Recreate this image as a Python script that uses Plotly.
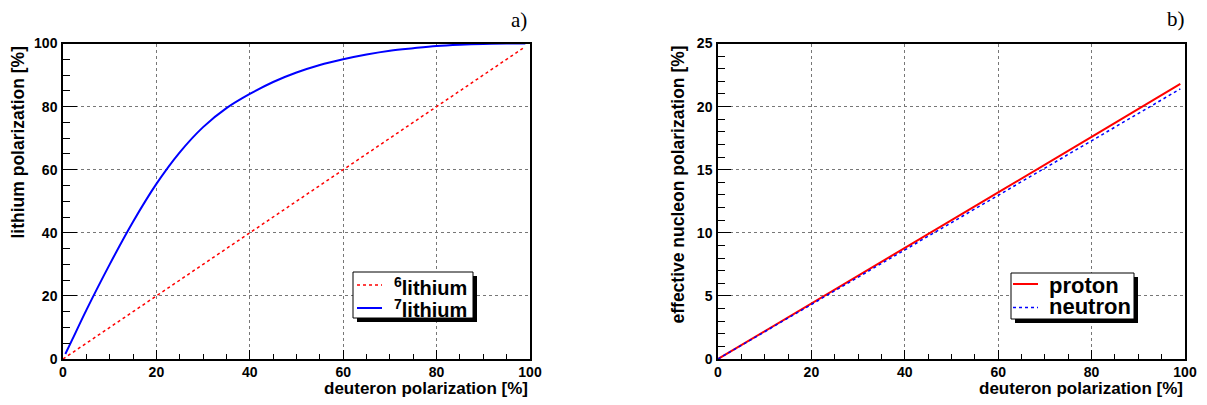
import plotly.graph_objects as go

# ---------------- data ----------------
deuteron_li = [0.5, 2, 5, 10, 15, 20, 25, 30, 35, 40, 45, 50, 55, 60, 65, 70, 75, 80, 85, 90, 95, 99]
li7 = [1.6, 6.2, 15.5, 30, 43.5, 55.5, 65.5, 73.5, 79.5, 84, 87.8, 90.8, 93.2, 95.0, 96.5, 97.7, 98.5, 99.2, 99.6, 99.85, 99.97, 100]
li6_x = [0, 99]
li6 = [0, 99]

deuteron_n = [0, 20, 40, 60, 80, 99]
proton = [0, 4.42, 8.82, 13.2, 17.6, 21.8]
neutron = [0, 4.32, 8.65, 12.97, 17.3, 21.4]

x_ticks = [0, 20, 40, 60, 80, 100]
y_ticks_a = [0, 20, 40, 60, 80, 100]
y_ticks_b = [0, 5, 10, 15, 20, 25]

W, H = 1207, 405
FONT = "Liberation Sans"
RED, BLUE = "#ff0000", "#0000ff"


def px(x):
    return x / W


def py(y):
    return 1 - y / H


fig = go.Figure()
fig.add_trace(go.Scatter(x=li6_x, y=li6, mode="lines", name="6lithium",
                         line=dict(color=RED, width=1.5, dash="dot"), xaxis="x", yaxis="y"))
fig.add_trace(go.Scatter(x=deuteron_li, y=li7, mode="lines", name="7lithium",
                         line=dict(color=BLUE, width=2, shape="spline"), xaxis="x", yaxis="y"))
fig.add_trace(go.Scatter(x=deuteron_n, y=proton, mode="lines", name="proton",
                         line=dict(color=RED, width=2), xaxis="x2", yaxis="y2"))
fig.add_trace(go.Scatter(x=deuteron_n, y=neutron, mode="lines", name="neutron",
                         line=dict(color=BLUE, width=1.5, dash="dot"), xaxis="x2", yaxis="y2"))

ydom = [py(359), py(43.5)]


def axis(dom, rng, ticks, minor, ticklen, minorlen, anchor, standoff):
    return dict(domain=dom, range=rng, tickvals=ticks, ticks="inside", ticklen=ticklen,
                tickwidth=1, tickcolor="black", automargin=False,
                minor=dict(dtick=minor, ticks="inside", ticklen=minorlen, tickcolor="black",
                           showgrid=False),
                showline=True, linecolor="black", linewidth=1.5, mirror=True,
                showgrid=True, gridcolor="#777777", griddash="dot", gridwidth=1,
                zeroline=False, anchor=anchor, ticklabelstandoff=standoff,
                tickfont=dict(family=FONT, size=14, color="black", weight="bold"),
                fixedrange=True)


fig.update_layout(
    template="none",
    width=W, height=H, margin=dict(l=0, r=0, t=0, b=0, pad=0),
    paper_bgcolor="white", plot_bgcolor="white", showlegend=False,
    xaxis=axis([px(63), px(530)], [0, 100], x_ticks, 5, 9, 5, "y", -1),
    yaxis=axis(ydom, [0, 100], y_ticks_a, 5, 14, 7, "x", 1),
    xaxis2=axis([px(718), px(1185)], [0, 100], x_ticks, 5, 9, 5, "y2", -1),
    yaxis2=axis(ydom, [0, 25], y_ticks_b, 1, 13, 7, "x2", 1),
)

ann = []
tfont = dict(family=FONT, size=17, color="black", weight="bold")
yfont = dict(family=FONT, size=17.5, color="black", weight="bold")
ann.append(dict(text="deuteron polarization [%]", x=px(530), y=py(388), xanchor="right",
                yanchor="middle", xref="paper", yref="paper", showarrow=False, font=tfont))
ann.append(dict(text="deuteron polarization [%]", x=px(1185), y=py(388), xanchor="right",
                yanchor="middle", xref="paper", yref="paper", showarrow=False, font=tfont))
ann.append(dict(text="lithium polarization [%]", x=px(17.5), y=py(43.5), xanchor="center",
                yanchor="top", textangle=-90, xref="paper", yref="paper", showarrow=False, font=yfont))
ann.append(dict(text="effective nucleon polarization [%]", x=px(677), y=py(43.5), xanchor="center",
                yanchor="top", textangle=-90, xref="paper", yref="paper", showarrow=False, font=yfont))
sfont = dict(family="Liberation Serif", size=21, color="black")
ann.append(dict(text="a)", x=px(529), y=py(19.5), xanchor="right", yanchor="middle",
                xref="paper", yref="paper", showarrow=False, font=sfont))
ann.append(dict(text="b)", x=px(1187), y=py(19), xanchor="right", yanchor="middle",
                xref="paper", yref="paper", showarrow=False, font=sfont))

shapes = []


def legend_box(x0, y0, x1, y1, off):
    shapes.append(dict(type="rect", xref="paper", yref="paper", x0=px(x0 + off), x1=px(x1 + off),
                       y0=py(y1 + off), y1=py(y0 + off), fillcolor="black",
                       line=dict(width=0), layer="above"))
    shapes.append(dict(type="rect", xref="paper", yref="paper", x0=px(x0), x1=px(x1),
                       y0=py(y1), y1=py(y0), fillcolor="white",
                       line=dict(width=1, color="black"), layer="above"))


def sample(x0, x1, y, color, width, dash):
    shapes.append(dict(type="line", xref="paper", yref="paper", x0=px(x0), x1=px(x1),
                       y0=py(y), y1=py(y), line=dict(color=color, width=width, dash=dash),
                       layer="above"))


legend_box(353, 272, 473, 318, 4)
sample(357, 382, 285, RED, 1.5, "dot")
sample(357, 382, 308, BLUE, 2, "solid")
lfont = dict(family=FONT, size=20, color="black", weight="bold")
ann.append(dict(text="<sup>6</sup>lithium", x=px(469), y=py(286), xanchor="right", yanchor="middle",
                xref="paper", yref="paper", showarrow=False, font=lfont))
ann.append(dict(text="<sup>7</sup>lithium", x=px(469), y=py(308), xanchor="right", yanchor="middle",
                xref="paper", yref="paper", showarrow=False, font=lfont))

legend_box(1011, 273, 1134, 319, 4)
sample(1013, 1038, 284, RED, 2, "solid")
sample(1013, 1038, 307.5, BLUE, 1.5, "dot")
rfont = dict(family=FONT, size=22, color="black", weight="bold")
ann.append(dict(text="proton", x=px(1047), y=py(285), xanchor="left", yanchor="middle",
                xref="paper", yref="paper", showarrow=False, font=rfont))
ann.append(dict(text="neutron", x=px(1047), y=py(306), xanchor="left", yanchor="middle",
                xref="paper", yref="paper", showarrow=False, font=rfont))

fig.update_layout(annotations=ann, shapes=shapes)
fig.write_html("out.html", config={"displayModeBar": False},
               post_script="document.body.style.margin='0';document.body.style.padding='0';")
